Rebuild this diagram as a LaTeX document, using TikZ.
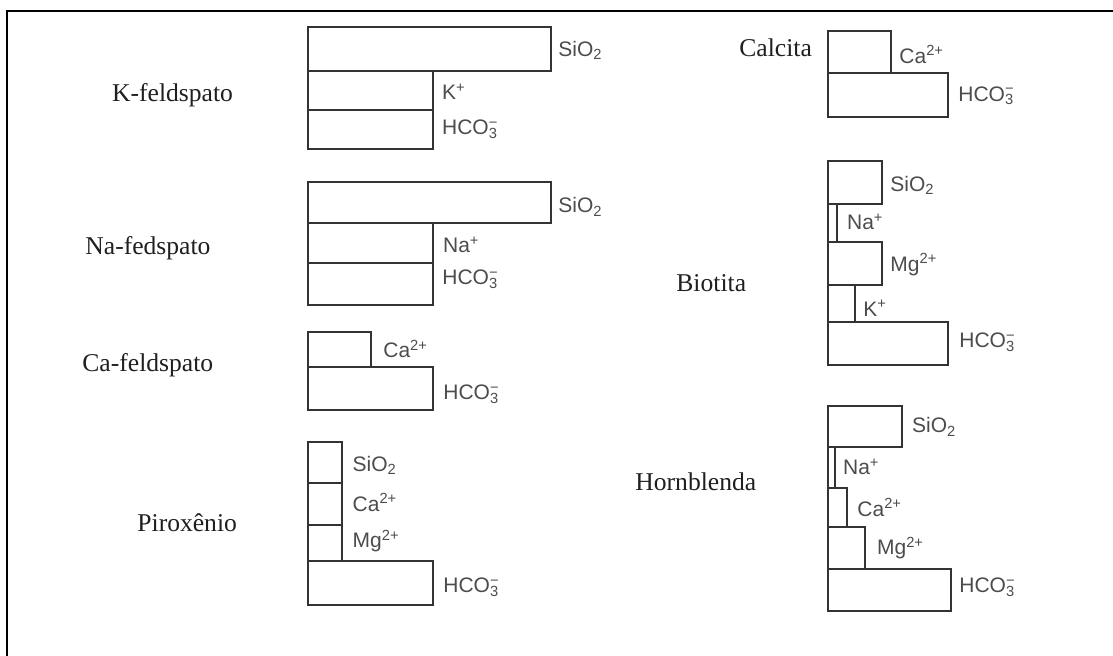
\documentclass[tikz,border=0pt]{standalone}
\usepackage{fontspec}
\setmainfont{Liberation Serif}
\newfontfamily\ionfont{Liberation Sans}
% subscript and superscript stacked on the same place
\newcommand\ionss[2]{\rlap{\textsubscript{#1}}\textsuperscript{#2}}

\begin{document}
\begin{tikzpicture}[x=0.5pt,y=-0.5pt,
  layer/.style={draw=black!80, line width=1pt},
  ion/.style={anchor=base west, inner sep=0pt,
    font=\ionfont\fontsize{10.5}{12}\selectfont, text=black!70},
  mineral/.style={anchor=base west, inner sep=0pt,
    font=\fontsize{12.8}{15}\selectfont, text=black!88}]
\useasboundingbox (0,0) rectangle (1113,656);
% open frame
\draw[line width=1pt] (7,656) -- (7,11.5) -- (1113,11.5);

% K-feldspato
\node[mineral] (nK) at (111.7,102) {K-feldspato};
\draw[layer] (307.5,26.7) rectangle (550.7,71);
\draw[layer] (307.5,71) rectangle (433,110);
\draw[layer] (307.5,110) rectangle (433,149.3);
\node[ion] (kSi) at (558,56.7) {SiO\textsubscript{2}};
\node[ion] (kK) at (441.7,100) {K\textsuperscript{+}};
\node[ion] (kH) at (441.7,135) {HCO\ionss{3}{−}};

% Na-fedspato
\node[mineral] (nNa) at (85,255) {Na-fedspato};
\draw[layer] (307.5,181.7) rectangle (550.7,223.3);
\draw[layer] (307.5,223.3) rectangle (433,263.3);
\draw[layer] (307.5,263.3) rectangle (433,305);
\node[ion] (naSi) at (558,213) {SiO\textsubscript{2}};
\node[ion] (naNa) at (442.7,253) {Na\textsuperscript{+}};
\node[ion] (naH) at (442,285) {HCO\ionss{3}{−}};

% Ca-feldspato
\node[mineral] (nCa) at (82,372) {Ca-feldspato};
\draw[layer] (307.5,331.7) rectangle (370.7,367.3);
\draw[layer] (307.5,367.3) rectangle (432.7,410);
\node[ion] (caCa) at (383,358) {Ca\textsuperscript{2+}};
\node[ion] (caH) at (443,400) {HCO\ionss{3}{−}};

% Piroxenio
\node[mineral] (nPx) at (137,532) {Piroxênio};
\draw[layer] (307.5,441.7) rectangle (342.3,483.3);
\draw[layer] (307.5,483.3) rectangle (342.3,525);
\draw[layer] (307.5,525) rectangle (342.3,560.7);
\draw[layer] (307.5,560.7) rectangle (432.7,605);
\node[ion] (pxSi) at (352.3,471.7) {SiO\textsubscript{2}};
\node[ion] (pxCa) at (352.3,511.7) {Ca\textsuperscript{2+}};
\node[ion] (pxMg) at (352.3,548) {Mg\textsuperscript{2+}};
\node[ion] (pxH) at (443,593) {HCO\ionss{3}{−}};

% Calcita
\node[mineral] (nCc) at (739,57) {Calcita};
\draw[layer] (827.7,31) rectangle (890.7,72.7);
\draw[layer] (827.7,72.7) rectangle (948.3,117.3);
\node[ion] (ccCa) at (899,63.3) {Ca\textsuperscript{2+}};
\node[ion] (ccH) at (958,101.7) {HCO\ionss{3}{−}};

% Biotita
\node[mineral] (nBt) at (676,292) {Biotita};
\draw[layer] (827.7,161) rectangle (881.7,204);
\draw[layer] (827.7,204) rectangle (836.7,241.7);
\draw[layer] (827.7,241.7) rectangle (881.7,285);
\draw[layer] (827.7,285) rectangle (855,321.7);
\draw[layer] (827.7,321.7) rectangle (948.3,365);
\node[ion] (btSi) at (890,191.7) {SiO\textsubscript{2}};
\node[ion] (btNa) at (846.7,230) {Na\textsuperscript{+}};
\node[ion] (btMg) at (890,271.7) {Mg\textsuperscript{2+}};
\node[ion] (btK) at (863,316.7) {K\textsuperscript{+}};
\node[ion] (btH) at (959,348) {HCO\ionss{3}{−}};

% Hornblenda
\node[mineral] (nHb) at (635,491) {Hornblenda};
\draw[layer] (827.7,406) rectangle (901.7,447.3);
\draw[layer] (827.7,447.3) rectangle (835,488.3);
\draw[layer] (827.7,488.3) rectangle (846.7,526.7);
\draw[layer] (827.7,526.7) rectangle (865,569);
\draw[layer] (827.7,569) rectangle (950.7,610.7);
\node[ion] (hbSi) at (911.7,433) {SiO\textsubscript{2}};
\node[ion] (hbNa) at (842.7,475) {Na\textsuperscript{+}};
\node[ion] (hbCa) at (857,516.7) {Ca\textsuperscript{2+}};
\node[ion] (hbMg) at (876.7,555) {Mg\textsuperscript{2+}};
\node[ion] (hbH) at (959,593) {HCO\ionss{3}{−}};
\end{tikzpicture}
\end{document}
